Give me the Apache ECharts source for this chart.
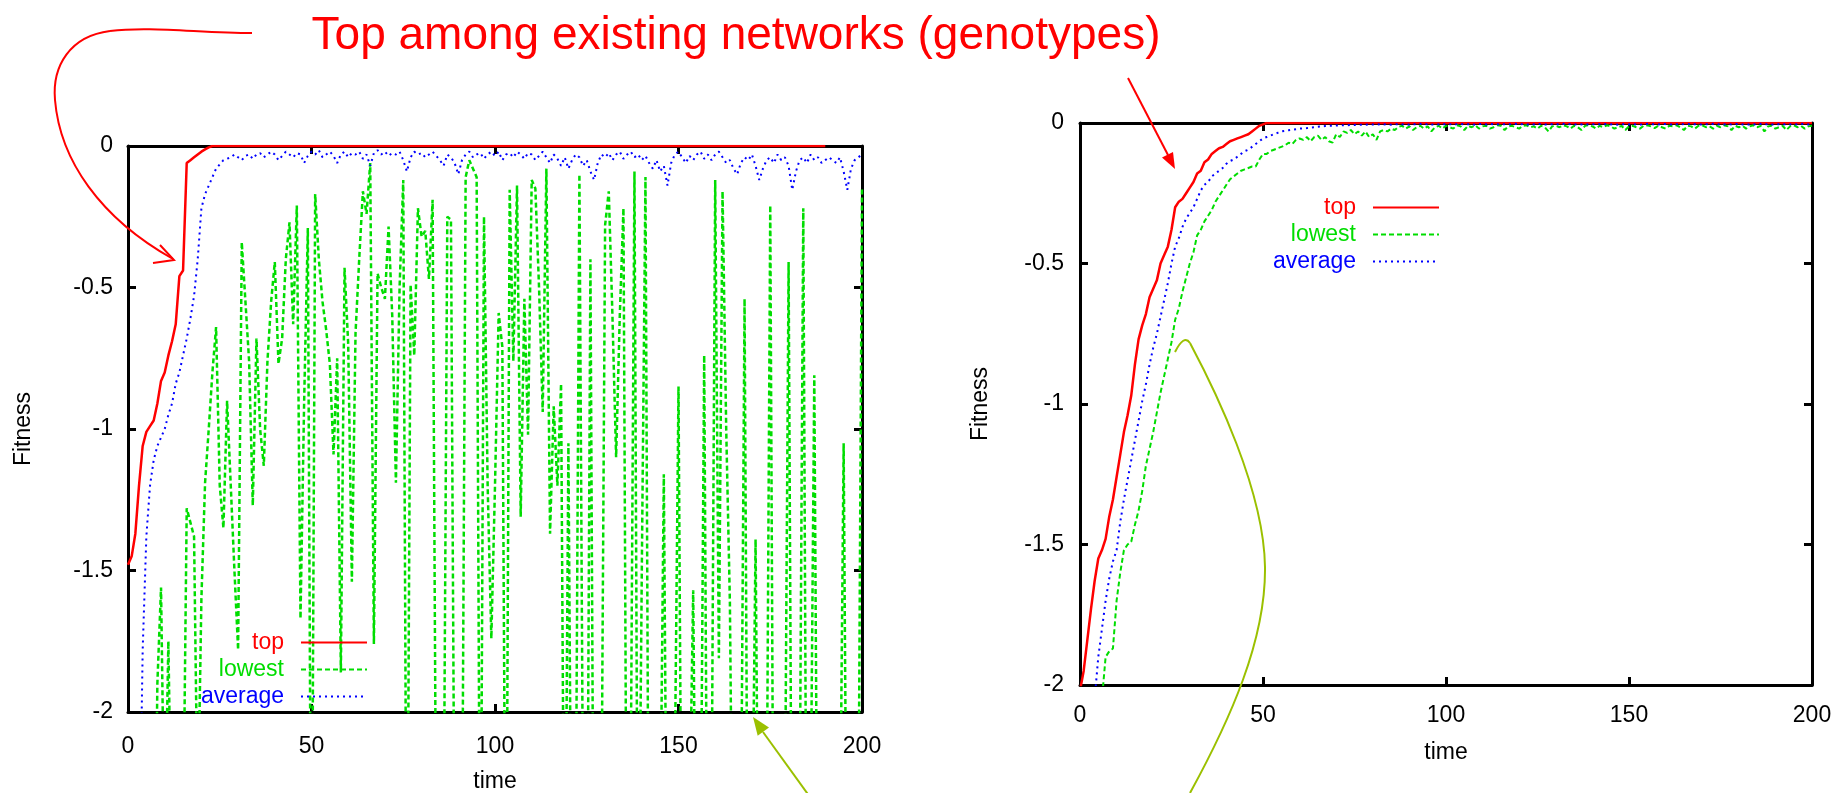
<!DOCTYPE html>
<html><head><meta charset="utf-8">
<script src="https://cdn.jsdelivr.net/npm/echarts/dist/echarts.min.js"></script>
<style>html,body{margin:0;padding:0;background:#fff}#c{width:1847px;height:793px}</style>
</head><body><div id="c"></div><script>
// ---------- text ----------
const titleText = 'Top among existing networks (genotypes)';
const seriesNames = ['top', 'lowest', 'average'];
const xAxisName = 'time';
const yAxisName = 'Fitness';
const xTicks = [0, 50, 100, 150, 200];
const yTicks = [0, -0.5, -1, -1.5, -2];

// ---------- left panel (t = 0..200) ----------
const leftTop = [
-1.48,-1.45,-1.37,-1.2,-1.06,-1.01,-0.99,-0.97,-0.91,-0.83,
-0.8,-0.74,-0.69,-0.63,-0.46,-0.44,-0.06,-0.05,-0.04,-0.03,
-0.02,-0.012,-0.005,0,0,0,0,0,0,0,
0,0,0,0,0,0,0,0,0,0, 0,0,0,0,0,0,0,0,0,0,
0,0,0,0,0,0,0,0,0,0, 0,0,0,0,0,0,0,0,0,0,
0,0,0,0,0,0,0,0,0,0, 0,0,0,0,0,0,0,0,0,0,
0,0,0,0,0,0,0,0,0,0, 0,0,0,0,0,0,0,0,0,0,
0,0,0,0,0,0,0,0,0,0, 0,0,0,0,0,0,0,0,0,0,
0,0,0,0,0,0,0,0,0,0, 0,0,0,0,0,0,0,0,0,0,
0,0,0,0,0,0,0,0,0,0, 0,0,0,0,0,0,0,0,0,0,
0,0,0,0,0,0,0,0,0,0, 0,0,0,0,0,0,0,0,0,0,
0];
const leftLowest = [
-3,-3,-3,-3,-3,-3,-3,-3,-1.9,-1.56,
-2.5,-1.75,-2.6,-3,-3,-2.5,-1.28,-1.33,-1.38,-2.4,
-1.6,-1.19,-1.0,-0.8,-0.64,-1.2,-1.35,-0.9,-1.2,-1.5,
-1.78,-0.34,-0.55,-0.76,-1.27,-0.68,-1.0,-1.13,-0.76,-0.55,
-0.41,-0.77,-0.68,-0.4,-0.27,-0.63,-0.21,-1.67,-0.9,-0.29,
-3,-0.17,-0.4,-0.55,-0.65,-0.77,-1.09,-0.75,-1.86,-0.43,
-0.7,-1.54,-0.66,-0.4,-0.16,-0.24,-0.06,-1.76,-0.45,-0.5,
-0.54,-0.285,-0.6,-1.19,-0.5,-0.12,-3,-0.49,-0.74,-0.22,
-0.32,-0.3,-0.47,-0.19,-2.6,-3,-2.5,-0.25,-0.26,-2.6,
-3,-2.6,-0.11,-0.05,-0.08,-0.11,-3,-0.25,-1.2,-1.74,
-1.2,-0.59,-0.71,-3,-0.155,-0.76,-0.14,-1.31,-0.54,-1.02,
-0.12,-0.15,-0.5,-0.94,-0.08,-1.37,-0.92,-1.2,-0.84,-3,
-1.05,-3,-2.5,-0.1,-2.4,-3,-0.4,-3,-3,-2.4,
-0.28,-0.16,-0.6,-1.1,-0.6,-0.22,-3,-2.2,-0.09,-3,
-1.5,-0.11,-3,-3,-3,-2.5,-1.16,-3,-3,-2.2,
-0.85,-3,-3,-2.4,-1.57,-3,-2.6,-0.74,-3,-2.4,
-0.12,-1.81,-0.16,-1.0,-1.61,-3,-3,-2.5,-0.54,-3,
-2.6,-1.39,-3,-3,-2.5,-0.21,-3,-3,-3,-2.4,
-0.41,-3,-3,-2.4,-0.22,-3,-2.4,-0.81,-3,-3,
-3,-3,-3,-3,-2.5,-1.05,-3,-3,-3,-2.5,
-0.15];
const leftAverage = [
-3,-3,-3,-2.6,-1.78,-1.38,-1.2,-1.11,-1.06,-1.03,
-1.0,-0.95,-0.91,-0.84,-0.8,-0.74,-0.68,-0.61,-0.53,-0.4,
-0.22,-0.17,-0.14,-0.11,-0.08,-0.065,-0.05,-0.045,-0.04,-0.03,
-0.04,-0.05,-0.035,-0.03,-0.045,-0.03,-0.025,-0.04,-0.03,-0.02,
-0.03,-0.05,-0.035,-0.02,-0.03,-0.04,-0.025,-0.03,-0.06,-0.035,
-0.02,-0.03,-0.015,-0.04,-0.03,-0.02,-0.035,-0.06,-0.03,-0.02,
-0.04,-0.025,-0.03,-0.02,-0.045,-0.03,-0.07,-0.025,-0.015,-0.03,
-0.02,-0.035,-0.025,-0.03,-0.02,-0.05,-0.09,-0.04,-0.02,-0.03,
-0.025,-0.04,-0.03,-0.02,-0.035,-0.05,-0.07,-0.03,-0.04,-0.06,
-0.1,-0.05,-0.03,-0.02,-0.04,-0.03,-0.025,-0.045,-0.03,-0.02,
-0.035,-0.02,-0.05,-0.03,-0.025,-0.04,-0.02,-0.03,-0.045,-0.025,
-0.03,-0.05,-0.035,-0.02,-0.04,-0.06,-0.03,-0.045,-0.07,-0.04,
-0.08,-0.05,-0.03,-0.04,-0.07,-0.05,-0.09,-0.12,-0.06,-0.03,
-0.04,-0.025,-0.05,-0.03,-0.02,-0.045,-0.03,-0.02,-0.04,-0.03,
-0.05,-0.035,-0.06,-0.08,-0.05,-0.09,-0.07,-0.14,-0.06,-0.03,
-0.02,-0.04,-0.06,-0.035,-0.05,-0.03,-0.02,-0.045,-0.03,-0.05,
-0.03,-0.02,-0.04,-0.06,-0.05,-0.08,-0.1,-0.06,-0.04,-0.05,
-0.03,-0.07,-0.12,-0.08,-0.05,-0.04,-0.06,-0.03,-0.05,-0.04,
-0.07,-0.155,-0.09,-0.05,-0.04,-0.06,-0.03,-0.05,-0.04,-0.06,
-0.05,-0.04,-0.05,-0.06,-0.04,-0.09,-0.155,-0.08,-0.05,-0.04,
-0.03];

// ---------- right panel (t = 0..200) ----------
const rightTop = [
-2.02,-1.95,-1.84,-1.73,-1.63,-1.55,-1.52,-1.48,-1.4,-1.34,
-1.26,-1.18,-1.1,-1.04,-0.97,-0.86,-0.77,-0.72,-0.68,-0.62,
-0.59,-0.56,-0.5,-0.47,-0.44,-0.38,-0.3,-0.28,-0.27,-0.25,
-0.23,-0.21,-0.18,-0.17,-0.14,-0.13,-0.11,-0.1,-0.09,-0.085,
-0.075,-0.065,-0.06,-0.055,-0.05,-0.045,-0.04,-0.03,-0.02,-0.01,
-0.005,0,0,0,0,0,0,0,0,0,
0,0,0,0,0,0,0,0,0,0, 0,0,0,0,0,0,0,0,0,0,
0,0,0,0,0,0,0,0,0,0, 0,0,0,0,0,0,0,0,0,0,
0,0,0,0,0,0,0,0,0,0, 0,0,0,0,0,0,0,0,0,0,
0,0,0,0,0,0,0,0,0,0, 0,0,0,0,0,0,0,0,0,0,
0,0,0,0,0,0,0,0,0,0, 0,0,0,0,0,0,0,0,0,0,
0,0,0,0,0,0,0,0,0,0, 0,0,0,0,0,0,0,0,0,0,
0,0,0,0,0,0,0,0,0,0, 0,0,0,0,0,0,0,0,0,0,
0];
const rightLowest = [
-2.6,-2.5,-2.4,-2.3,-2.2,-2.12,-2.05,-1.9,-1.88,-1.87,
-1.7,-1.6,-1.52,-1.5,-1.49,-1.43,-1.38,-1.31,-1.22,-1.16,
-1.1,-1.03,-0.96,-0.9,-0.84,-0.78,-0.7,-0.66,-0.6,-0.55,
-0.5,-0.46,-0.4,-0.38,-0.35,-0.33,-0.31,-0.28,-0.26,-0.24,
-0.22,-0.2,-0.19,-0.18,-0.17,-0.165,-0.16,-0.155,-0.155,-0.13,
-0.11,-0.11,-0.1,-0.095,-0.09,-0.085,-0.08,-0.07,-0.075,-0.06,
-0.055,-0.06,-0.05,-0.065,-0.05,-0.045,-0.06,-0.05,-0.065,-0.07,
-0.04,-0.05,-0.03,-0.035,-0.025,-0.04,-0.03,-0.045,-0.03,-0.05,
-0.04,-0.06,-0.03,-0.025,-0.03,-0.02,-0.025,-0.014,-0.01,-0.02,
-0.012,-0.025,-0.015,-0.01,-0.02,-0.012,-0.03,-0.015,-0.01,-0.02,
-0.01,-0.015,-0.02,-0.008,-0.012,-0.025,-0.01,-0.015,-0.008,-0.02,
-0.012,-0.01,-0.02,-0.015,-0.008,-0.01,-0.025,-0.012,-0.01,-0.015,
-0.02,-0.01,-0.008,-0.015,-0.012,-0.02,-0.01,-0.015,-0.03,-0.012,
-0.01,-0.015,-0.008,-0.012,-0.02,-0.01,-0.015,-0.025,-0.01,-0.008,
-0.012,-0.02,-0.01,-0.015,-0.008,-0.012,-0.02,-0.015,-0.01,-0.025,
-0.012,-0.01,-0.015,-0.02,-0.01,-0.008,-0.012,-0.018,-0.01,-0.015,
-0.02,-0.01,-0.012,-0.008,-0.015,-0.025,-0.01,-0.012,-0.02,-0.01,
-0.008,-0.015,-0.012,-0.02,-0.01,-0.015,-0.008,-0.012,-0.025,-0.01,
-0.015,-0.01,-0.02,-0.012,-0.008,-0.015,-0.01,-0.03,-0.012,-0.01,
-0.02,-0.015,-0.01,-0.025,-0.012,-0.008,-0.015,-0.01,-0.02,-0.012,
-0.01];
const rightAverage = [
-2.6,-2.45,-2.3,-2.17,-2.05,-1.9,-1.8,-1.7,-1.62,-1.56,
-1.52,-1.42,-1.34,-1.27,-1.2,-1.13,-1.06,-0.99,-0.93,-0.86,
-0.8,-0.75,-0.69,-0.63,-0.57,-0.5,-0.44,-0.41,-0.37,-0.34,
-0.32,-0.3,-0.27,-0.24,-0.22,-0.21,-0.19,-0.18,-0.17,-0.16,
-0.145,-0.135,-0.13,-0.12,-0.11,-0.1,-0.095,-0.085,-0.075,-0.065,
-0.055,-0.05,-0.045,-0.04,-0.035,-0.03,-0.028,-0.026,-0.024,-0.022,
-0.02,-0.019,-0.018,-0.016,-0.015,-0.013,-0.012,-0.011,-0.01,-0.01,
-0.009,-0.009,-0.008,-0.008,-0.007,-0.007,-0.006,-0.006,-0.006,-0.005,
-0.005,-0.006,-0.004,-0.005,-0.004,-0.006,-0.005,-0.004,-0.005,-0.004,
-0.006,-0.004,-0.005,-0.003,-0.005,-0.004,-0.006,-0.004,-0.005,-0.004,
-0.005,-0.004,-0.006,-0.004,-0.003,-0.005,-0.004,-0.005,-0.006,-0.004,
-0.004,-0.005,-0.003,-0.005,-0.004,-0.006,-0.004,-0.005,-0.004,-0.003,
-0.005,-0.004,-0.006,-0.004,-0.005,-0.004,-0.003,-0.005,-0.006,-0.004,
-0.005,-0.004,-0.003,-0.005,-0.004,-0.006,-0.004,-0.005,-0.004,-0.005,
-0.004,-0.006,-0.004,-0.005,-0.003,-0.005,-0.004,-0.006,-0.004,-0.005,
-0.005,-0.004,-0.005,-0.006,-0.004,-0.003,-0.005,-0.004,-0.005,-0.004,
-0.004,-0.005,-0.006,-0.004,-0.005,-0.004,-0.003,-0.005,-0.004,-0.006,
-0.005,-0.004,-0.005,-0.003,-0.004,-0.006,-0.005,-0.004,-0.005,-0.004,
-0.004,-0.005,-0.004,-0.006,-0.005,-0.004,-0.003,-0.005,-0.004,-0.005,
-0.005,-0.004,-0.006,-0.004,-0.005,-0.004,-0.005,-0.003,-0.004,-0.005,
-0.004];

// ---------- styling ----------
const colors = ['#ff0000', '#00dd00', '#0000ff'];
const FONT = '"Liberation Sans", Arial, sans-serif';
const TXT = '#000000';
const ARROW_GREEN = '#9bc000';

function pairs(arr) { return arr.map((v, i) => [i, v]); }

function axesFor(g, o) {
  const tickStyle = { color: '#000', width: 3 };
  const base = {
    type: 'value', gridIndex: g, min: xTicks[0], max: xTicks[xTicks.length - 1], interval: 50,
    splitLine: { show: false },
    axisLine: { show: true, onZero: false, lineStyle: { color: '#000', width: 3 } },
    axisTick: { show: true, inside: true, length: 8, lineStyle: tickStyle }
  };
  const xb = Object.assign({}, base, {
    position: 'bottom',
    axisLabel: { show: true, fontSize: 23, color: TXT, fontFamily: FONT, margin: o.xMargin, showMinLabel: true, showMaxLabel: true },
    name: xAxisName, nameLocation: 'middle', nameGap: o.xNameGap,
    nameTextStyle: { fontSize: 23, color: TXT, fontFamily: FONT }
  });
  const xt = Object.assign({}, base, { position: 'top', axisLabel: { show: false } });
  const ybase = {
    type: 'value', gridIndex: g, min: yTicks[yTicks.length - 1], max: yTicks[0], interval: 0.5,
    splitLine: { show: false },
    axisLine: { show: true, onZero: false, lineStyle: { color: '#000', width: 3 } },
    axisTick: { show: true, inside: true, length: 8, lineStyle: tickStyle }
  };
  const yl = Object.assign({}, ybase, {
    position: 'left',
    axisLabel: { show: true, fontSize: 23, color: TXT, fontFamily: FONT, margin: o.yMargin, showMinLabel: true, showMaxLabel: true },
    name: yAxisName, nameLocation: 'middle', nameGap: o.yNameGap, nameRotate: 90,
    nameTextStyle: { fontSize: 23, color: TXT, fontFamily: FONT }
  });
  const yr = Object.assign({}, ybase, { position: 'right', axisLabel: { show: false } });
  return { x: [xb, xt], y: [yl, yr] };
}

const a0 = axesFor(0, { xMargin: 23, xNameGap: 58, yMargin: 15, yNameGap: 93 });
const a1 = axesFor(1, { xMargin: 19, xNameGap: 56, yMargin: 16, yNameGap: 88 });

function mkSeries(name, data, xi, yi, idx, greenWidth) {
  const ls = [
    { color: colors[0], width: 2.5, type: 'solid' },
    { color: colors[1], width: greenWidth, type: [5, 3] },
    { color: colors[2], width: 2, type: [2, 4] }
  ][idx];
  return {
    type: 'line', name: name, xAxisIndex: xi, yAxisIndex: yi,
    data: pairs(data), showSymbol: false, symbol: 'none', clip: true,
    lineStyle: ls, itemStyle: { color: colors[idx] }, emphasis: { disabled: true }, animation: false
  };
}

function mkLegend(rightPx, topPx) {
  return {
    orient: 'vertical', align: 'right', right: rightPx, top: topPx,
    itemWidth: 66, itemHeight: 14, itemGap: 0, padding: 0, selectedMode: false,
    itemStyle: { color: 'rgba(0,0,0,0)', borderColor: 'rgba(0,0,0,0)', borderWidth: 0 },
    textStyle: { fontSize: 23, fontFamily: FONT, lineHeight: 27, padding: [0, 12, 0, 0] },
    data: seriesNames.map((n, i) => ({ name: n, textStyle: { color: colors[i] } }))
  };
}

function bez(p0, c1, c2, p1, color) {
  const shape = { x1: p0[0], y1: p0[1], x2: p1[0], y2: p1[1], cpx1: c1[0], cpy1: c1[1] };
  if (c2) { shape.cpx2 = c2[0]; shape.cpy2 = c2[1]; }
  return { type: 'bezierCurve', z: 100, silent: true, shape: shape,
           style: { stroke: color, lineWidth: 2, fill: null } };
}

const chart = echarts.init(document.getElementById('c'), null, { renderer: 'canvas' });
chart.setOption({
  animation: false,
  backgroundColor: '#ffffff',
  grid: [
    { left: 128, top: 146, width: 734, height: 566, outerBoundsMode: 'none', containLabel: false },
    { left: 1080, top: 123, width: 732, height: 562, outerBoundsMode: 'none', containLabel: false }
  ],
  xAxis: [a0.x[0], a0.x[1], a1.x[0], a1.x[1]],
  yAxis: [a0.y[0], a0.y[1], a1.y[0], a1.y[1]],
  legend: [mkLegend(1847 - 368, 629), mkLegend(1847 - 1440, 194)],
  series: [
    mkSeries(seriesNames[0], leftTop, 0, 0, 0),
    mkSeries(seriesNames[1], leftLowest, 0, 0, 1, 2.5),
    mkSeries(seriesNames[2], leftAverage, 0, 0, 2),
    mkSeries(seriesNames[0], rightTop, 2, 2, 0),
    mkSeries(seriesNames[1], rightLowest, 2, 2, 1, 2),
    mkSeries(seriesNames[2], rightAverage, 2, 2, 2)
  ],
  graphic: [
    { type: 'text', x: 736, y: 36, z: 100, silent: true,
      style: { text: titleText, fill: '#ff0000', font: '46px "Liberation Sans", Arial, sans-serif', align: 'center', verticalAlign: 'middle' } },
    // red curved arrow to left panel
    bez([252, 33], [200, 33], [150, 26], [110, 31], '#ff0000'),
    bez([110, 31], [70, 36], [52, 66], [55, 100], '#ff0000'),
    bez([55, 100], [60, 160], [100, 218], [173, 259], '#ff0000'),
    { type: 'polyline', z: 100, silent: true,
      shape: { points: [[160, 245], [174, 260], [153, 263]] },
      style: { stroke: '#ff0000', lineWidth: 2, fill: null } },
    // red straight arrow to right panel
    { type: 'line', z: 100, silent: true,
      shape: { x1: 1128, y1: 78, x2: 1168, y2: 155 },
      style: { stroke: '#ff0000', lineWidth: 2 } },
    { type: 'polygon', z: 100, silent: true,
      shape: { points: [[1175, 169], [1173, 152], [1162, 157.5]] },
      style: { fill: '#ff0000' } },
    // yellow-green straight arrow (left panel)
    { type: 'line', z: 100, silent: true,
      shape: { x1: 815, y1: 804, x2: 763, y2: 732 },
      style: { stroke: ARROW_GREEN, lineWidth: 2 } },
    { type: 'polygon', z: 100, silent: true,
      shape: { points: [[753, 717], [769, 727.6], [757.7, 735.8]] },
      style: { fill: ARROW_GREEN } },
    // yellow-green curve (right panel)
    bez([1190, 793], [1230, 720], [1266, 640], [1265, 567], ARROW_GREEN),
    bez([1265, 567], [1264, 490], [1215, 390], [1190, 343], ARROW_GREEN),
    bez([1190, 343], [1184, 334], null, [1175, 352], ARROW_GREEN)
  ]
});
</script></body></html>
